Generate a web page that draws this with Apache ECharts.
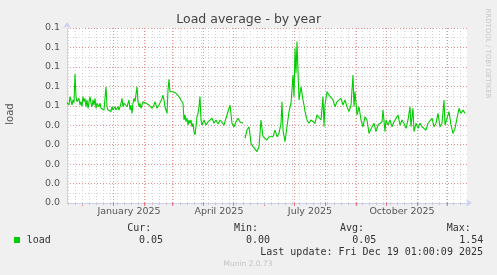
<!DOCTYPE html>
<html>
<head>
<meta charset="utf-8">
<script src="https://cdn.jsdelivr.net/npm/echarts@6/dist/echarts.min.js"></script>
<style>
html,body{margin:0;padding:0;background:#f0f0f0;}
#chart{width:497px;height:275px;}
</style>
</head>
<body>
<div id="chart"></div>
<script>
// Day offsets from 2025-01-01
const days = [-46,-45,-44,-43,-42,-41,-40,-39,-38,-37,-36,-35,-34,-33,-32,-31,-30,-29,-28,-27,-26,-25,-24,-23,-22,-21,-20,-19,-18,-17,-16,-15,-14,-13,-12,-11,-10,-9,-8,-7,-6,-5,-4,-3,-2,-1,
0,1,2,3,4,5,6,7,8,9,10,11,12,13,14,15,16,17,18,19,20,21,22,23,24,25,26,27,28,29,30,31,32,33,34,35,36,37,38,39,40,41,42,43,44,45,46,47,48,49,50,51,52,53,54,55,56,57,58,59,60,61,62,63,64,65,66,67,68,69,70,
71,72,73,74,75,76,77,78,79,80,81,82,83,84,85,86,87,88,89,91,93,95,97,99,101,103,105,107,109,111,113,115,117,119,121,123,125,127,129,130,131,
132,134,136,138,140,142,144,146,148,150,152,154,156,158,160,162,164,166,168,169,170,172,174,176,178,180,181,182,183,184,186,187,188,190,191,192,194,196,198,200,202,204,206,208,210,211,212,214,216,218,220,222,224,226,228,230,232,234,236,238,240,241,242,244,246,248,250,252,254,256,257,259,261,263,265,267,269,270,272,273,275,277,279,281,283,285,287,289,291,293,295,297,298,300,301,303,305,307,309,311,313,315,317,319,321,323,325,327,329,331,332,334,336,338,340,342,344,346,348,350,352];
const load = [.0516,.0521,.0504,.0547,.0555,.0504,.0530,.0516,.0663,.0547,.0521,.0513,.0538,.0504,.0521,.0495,.0547,.0521,.0538,.0495,.0530,.0487,.0521,.0547,.0513,.0495,.0530,.0504,.0538,.0487,.0513,.0521,.0495,.0513,.0487,.0478,.0495,.0478,.0470,.0598,.0495,.0478,.0470,.0487,.0470,.0495,
.0478,.0487,.0495,.0478,.0487,.0495,.0478,.0495,.0513,.0538,.0495,.0513,.0504,.0521,.0495,.0513,.0530,.0478,.0504,.0461,.0513,.0538,.0521,.0513,.0598,.0521,.0495,.0513,.0487,.0504,.0521,.0513,.0530,.0513,.0516,.0513,.0504,.0513,.0495,.0487,.0495,.0504,.0521,.0513,.0487,.0495,.0504,.0513,.0504,.0538,.0555,.0530,.0495,.0504,.0461,.0581,.0636,.0572,.0581,.0564,.0572,.0564,.0581,.0564,.0555,.0564,.0547,.0538,.0530,.0538,.0513,
.0427,.0453,.0418,.0436,.0401,.0427,.0410,.0427,.0392,.0410,.0367,.0350,.0392,.0444,.0461,.0495,.0547,.0427,.0401,.0427,.0401,.0417,.0427,.0436,.0410,.0427,.0406,.0427,.0418,.0401,.0436,.0427,.0504,.0410,.0392,.0418,.0436,.0418,.0410,.0410,null,
.0333,.0375,.0392,.0307,.0290,.0298,.0264,.0290,.0427,.0341,.0350,.0324,.0341,.0350,.0341,.0375,.0341,.0358,.0410,.0521,.0375,.0315,.0392,.0470,.0513,.0658,.0547,.0796,.0667,.0830,.0530,.0538,.0598,.0530,.0504,.0470,.0427,.0410,.0427,.0436,.0410,.0453,.0461,.0427,.0547,.0392,.0504,.0572,.0555,.0564,.0530,.0495,.0521,.0513,.0538,.0504,.0530,.0495,.0470,.0504,.0658,.0495,.0572,.0453,.0495,.0427,.0392,.0444,.0427,.0358,.0350,.0392,.0410,.0367,.0401,.0392,.0418,.0478,.0367,.0427,.0401,.0427,.0392,.0418,.0410,.0453,.0401,.0427,.0410,.0384,.0427,.0495,.0392,.0487,.0367,.0410,.0384,.0410,.0392,.0401,.0375,.0410,.0401,.0436,.0392,.0410,.0461,.0392,.0410,.0530,.0401,.0410,.0470,.0401,.0358,.0384,.0436,.0487,.0461,.0478,.0461];

// Axis: month starts (major grid), week lines (minor grid), label positions
const monthStarts = [-31,0,31,59,90,120,151,181,212,243,273,304,334];
const weekLines = [-45,-38,-31,-24,-17,-10,-3,4,11,18,25,32,39,46,53,60,67,74,81,88,95,102,109,116,123,130,137,144,151,158,165,172,179,186,193,200,207,214,221,228,235,242,249,256,263,270,277,284,291,298,305,312,319,326,333,340,347];
const labelDays = [16,106,197,289];
const labelTexts = ['January 2025','April 2025','July 2025','October 2025'];

const legendName = 'load';
const stats = {cur:'0.05', min:'0.00', avg:'0.05', max:'1.54'};

const chart = echarts.init(document.getElementById('chart'), null, {renderer:'canvas'});
const axisColor = '#cdd2f3';
const majorGrid = {color:'rgba(225,110,110,0.75)', width:1, type:[1,2]};
const minorGrid = {color:'#d4d4d4', width:1, type:[1,2]};
const mono = '10px "DejaVu Sans Mono"';

const option = {
  animation:false,
  backgroundColor:'#f0f0f0',
  grid:{left:67, top:28, width:400, height:175, show:true, backgroundColor:'#ffffff', borderWidth:0},
  xAxis:[{
    type:'value', min:-46, max:354, gridIndex:0,
    axisLine:{show:true, onZero:false, lineStyle:{color:axisColor, width:1}, symbol:['none','arrow'], symbolSize:[6,6], symbolOffset:[0,5]},
    axisTick:{show:true, length:3, customValues:monthStarts, lineStyle:{color:'rgba(225,110,110,0.9)'}},
    splitLine:{show:true, lineStyle:majorGrid},
    axisLabel:{show:true, customValues:labelDays, margin:4, fontFamily:'DejaVu Sans', fontSize:9.5, color:'#555',
      formatter:function(v){const i=labelDays.indexOf(Math.round(v)); return i>=0?labelTexts[i]:'';}}
  },{
    type:'value', min:-46, max:354, gridIndex:0, position:'bottom',
    axisLine:{show:false, onZero:false},
    axisTick:{show:true, length:2, customValues:weekLines, lineStyle:{color:'#c8c8c8'}},
    splitLine:{show:true, lineStyle:minorGrid},
    axisLabel:{show:false}
  }],
  yAxis:{
    type:'value', min:0, max:0.09, interval:0.01,
    axisLine:{show:true, onZero:false, lineStyle:{color:axisColor, width:1}, symbol:['none','arrow'], symbolSize:[6,6], symbolOffset:[0,6]},
    axisTick:{show:false},
    minorTick:{show:false, splitNumber:2},
    splitLine:{show:true, lineStyle:majorGrid},
    minorSplitLine:{show:true, lineStyle:minorGrid},
    axisLabel:{margin:7, fontFamily:'DejaVu Sans', fontSize:9.5, color:'#555',
      formatter:function(v){return (Math.round(v*10)/10).toFixed(1);}}
  },
  series:[{
    type:'line', name:legendName, xAxisIndex:0, yAxisIndex:0,
    data: days.map((d,i)=>[d, load[i]]),
    showSymbol:false, connectNulls:false, z:5,
    lineStyle:{color:'#00cc00', width:1.1},
    itemStyle:{color:'#00cc00'}
  }],
  graphic:[
    {type:'text', x:248.7, y:20, style:{text:'Load average - by year', font:'12.5px "DejaVu Sans"', fill:'#444', align:'center', verticalAlign:'middle', textAlign:'center', textVerticalAlign:'middle'}},
    {type:'text', x:10.5, y:114, rotation:Math.PI/2, style:{text:'load', font:'10px "DejaVu Sans"', fill:'#555', align:'center', verticalAlign:'middle', textAlign:'center', textVerticalAlign:'middle'}},
    {type:'text', x:487.5, y:53.5, rotation:-Math.PI/2, style:{text:'RRDTOOL / TOBI OETIKER', font:'7px "DejaVu Sans"', fill:'#c8c8c8', align:'center', verticalAlign:'middle', textAlign:'center', textVerticalAlign:'middle'}},
    {type:'rect', shape:{x:14, y:237, width:6, height:6}, style:{fill:'#00cc00'}},
    {type:'text', x:26.7, y:240, style:{text:legendName, font:mono, fill:'#333', verticalAlign:'middle', textVerticalAlign:'middle'}},
    {type:'text', x:127.3, y:228.5, style:{text:'Cur:', font:mono, fill:'#333', verticalAlign:'middle', textVerticalAlign:'middle'}},
    {type:'text', x:139, y:240, style:{text:stats.cur, font:mono, fill:'#333', verticalAlign:'middle', textVerticalAlign:'middle'}},
    {type:'text', x:234, y:228.5, style:{text:'Min:', font:mono, fill:'#333', verticalAlign:'middle', textVerticalAlign:'middle'}},
    {type:'text', x:246, y:240, style:{text:stats.min, font:mono, fill:'#333', verticalAlign:'middle', textVerticalAlign:'middle'}},
    {type:'text', x:340, y:228.5, style:{text:'Avg:', font:mono, fill:'#333', verticalAlign:'middle', textVerticalAlign:'middle'}},
    {type:'text', x:352.3, y:240, style:{text:stats.avg, font:mono, fill:'#333', verticalAlign:'middle', textVerticalAlign:'middle'}},
    {type:'text', x:446.7, y:228.5, style:{text:'Max:', font:mono, fill:'#333', verticalAlign:'middle', textVerticalAlign:'middle'}},
    {type:'text', x:459.3, y:240, style:{text:stats.max, font:mono, fill:'#333', verticalAlign:'middle', textVerticalAlign:'middle'}},
    {type:'text', x:483, y:252, style:{text:'Last update: Fri Dec 19 01:00:09 2025', font:mono, fill:'#333', align:'right', textAlign:'right', verticalAlign:'middle', textVerticalAlign:'middle'}},
    {type:'text', x:248, y:264, style:{text:'Munin 2.0.73', font:'7.5px "DejaVu Sans"', fill:'#c4c4c4', align:'center', textAlign:'center', verticalAlign:'middle', textVerticalAlign:'middle'}}
  ]
};
chart.setOption(option);
</script>
</body>
</html>
